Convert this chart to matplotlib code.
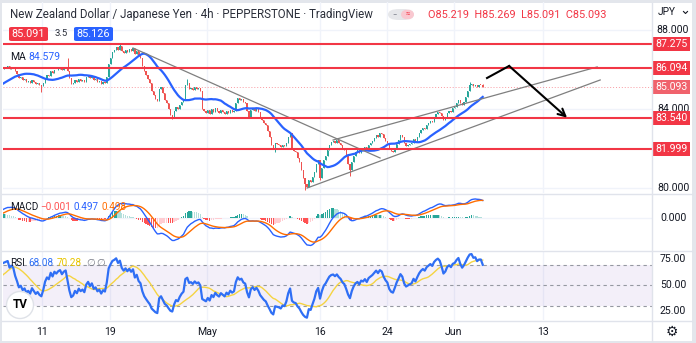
import numpy as np
import pandas as pd
import matplotlib
matplotlib.use("Agg")
import matplotlib.pyplot as plt
from matplotlib.patches import Rectangle, FancyBboxPatch, Ellipse
from matplotlib.transforms import blended_transform_factory

W, H = 696, 343
plt.rcParams['font.family'] = ['Roboto', 'DejaVu Sans']

# 4h closes of the bars left of the visible window (only feed the indicators)
closes_before = [85.05, 84.95, 85.00, 84.90, 85.05, 85.10, 84.95, 85.00, 84.85, 84.95,
                 85.05, 84.90, 85.00, 85.10, 84.95, 85.05, 84.90, 85.00, 85.10, 85.00,
                 84.95, 85.05, 85.00, 85.20, 85.45, 85.35, 85.70, 85.60, 85.90, 85.80,
                 86.05]

# visible 4h closes, bar 0 .. 256
closes = [
    86.10, 86.15, 86.20, 86.05, 86.15, 86.10, 85.90, 85.75, 85.55, 85.60,
    85.45, 85.50, 85.35, 85.40, 85.30, 85.45, 85.35, 85.25, 85.30, 85.20,
    85.15, 85.30, 85.55, 85.70, 85.65, 85.90, 85.80, 86.00, 85.95, 86.05,
    86.10, 86.00, 86.10, 86.15, 85.90, 85.55, 85.25, 85.30, 85.45, 85.35,
    85.50, 85.40, 85.45, 85.35, 85.60, 85.70, 85.55, 85.65, 85.45, 85.50,
    85.35, 85.40, 85.25, 85.35, 85.30, 85.60, 86.30, 86.60, 86.90, 87.00,
    87.15, 87.00, 87.20, 86.95, 86.85, 87.00, 86.90, 87.05, 86.95, 87.10,
    86.80, 86.95, 86.70, 86.60, 86.20, 85.90, 85.70, 85.50, 85.30, 84.90,
    84.70, 84.50, 84.40, 85.00, 85.10, 84.80, 84.45, 84.30, 84.00, 83.70,
    83.60, 83.90, 84.10, 84.00, 84.20, 84.35, 84.45, 85.20, 85.30, 85.00,
    85.05, 84.95, 85.10, 85.00, 85.05, 84.90, 84.00, 83.90, 83.80, 83.95,
    83.75, 84.00, 83.85, 84.05, 83.90, 83.80, 83.95, 83.85, 83.75, 83.90,
    83.80, 83.95, 83.85, 83.90, 84.30, 84.55, 84.45, 84.50, 84.35, 84.30,
    83.90, 83.60, 83.95, 84.05, 83.90, 84.00, 83.85, 83.60, 83.45, 83.30,
    83.20, 82.90, 82.60, 82.20, 82.00, 82.30, 82.25, 82.20, 82.10, 82.20,
    82.15, 82.30, 82.60, 82.80, 82.00, 81.85, 81.80, 81.50, 81.30, 80.90,
    80.50, 80.20, 80.05, 80.40, 80.30, 80.55, 80.80, 81.20, 81.40, 80.50,
    81.00, 81.40, 81.60, 81.90, 82.20, 82.35, 82.40, 82.30, 82.45, 82.30,
    82.20, 82.00, 81.90, 81.60, 81.20, 80.90, 81.30, 81.60, 81.80, 81.90,
    81.75, 82.00, 81.95, 82.10, 81.95, 82.20, 82.30, 82.40, 82.55, 82.70,
    82.60, 82.80, 82.75, 82.55, 82.40, 82.30, 82.00, 81.85, 81.80, 82.00,
    82.25, 82.45, 82.70, 82.60, 82.30, 82.15, 82.20, 82.25, 82.30, 82.50,
    82.40, 82.60, 82.80, 82.95, 83.05, 83.00, 83.20, 83.30, 83.40, 83.35,
    83.60, 83.75, 83.85, 83.80, 83.65, 83.45, 83.55, 83.80, 83.90, 83.85,
    84.05, 84.10, 84.30, 84.45, 84.30, 84.20, 84.35, 84.60, 84.90, 85.20,
    85.25, 85.15, 85.20, 85.10, 85.22, 85.219, 85.093,
]

# wicks that stick out clearly
wick_highs = {34: 86.60, 62: 87.30, 98: 85.50, 249: 85.37, 256: 85.269}
wick_lows = {20: 84.86, 90: 83.50, 145: 81.80, 161: 79.90, 169: 80.40, 185: 80.60, 256: 85.091}

levels = [87.275, 86.094, 83.540, 81.999]
last_close = 85.093

date_labels = ["11", "19", "May", "16", "24", "Jun", "13"]
date_pos = [20.6, 56.6, 108.6, 169.0, 205.0, 240.5, 288.0]

# drawings (bar index, price)
down_line = ([69.0, 201.1], [87.09, 81.52])
chan_upper = ([176.0, 317.2], [82.43, 86.13])
chan_lower = ([162.1, 318.8], [80.00, 85.47])
arrow_path = ([258.3, 270.1, 301.1], [85.57, 86.18, 83.56])

RED = '#f23645'
UP = '#26a69a'
DOWN = '#ef5350'
BLUE = '#2962ff'
ORANGE = '#ff6d00'
YELLOW = '#f5d442'
TXT = '#131722'
GRID = '#f0f3fa'

# ---- series + indicators
s = pd.Series(closes_before + closes, dtype=float)
idx = np.arange(len(s)) - len(closes_before)
c = s.values
o = np.r_[c[0], c[:-1]]
hi = np.maximum(o, c)
lo = np.minimum(o, c)
for k, v in wick_highs.items():
    hi[k + len(closes_before)] = v
for k, v in wick_lows.items():
    lo[k + len(closes_before)] = v

ma = s.rolling(20).mean()
ema12 = s.ewm(span=12, adjust=False).mean()
ema26 = s.ewm(span=26, adjust=False).mean()
macd = ema12 - ema26
signal = macd.ewm(span=9, adjust=False).mean()
hist = macd - signal
delta = s.diff().fillna(0)
up_r = delta.clip(lower=0).ewm(alpha=1 / 14, adjust=False).mean()
dn_r = (-delta.clip(upper=0)).ewm(alpha=1 / 14, adjust=False).mean()
rsi = 100 - 100 / (1 + up_r / dn_r.replace(0, 1e-9))
rsi_ma = rsi.rolling(14).mean()

# ---- figure
fig = plt.figure(figsize=(W / 100, H / 100), dpi=100, facecolor='#e3e6ec')
fig.patches.append(Rectangle((2 / W, 1 - 341 / H), 690 / W, 338 / H,
                             transform=fig.transFigure, fc='white', ec='none', zorder=-10))

AX_L, AX_R = 3, 652


def add_ax(top, bottom):
    a = fig.add_axes([AX_L / W, 1 - bottom / H, (AX_R - AX_L) / W, (bottom - top) / H])
    a.set_facecolor('none')
    for sp in a.spines.values():
        sp.set_visible(False)
    a.set_xticks([])
    a.set_yticks([])
    a.set_xlim(-0.5, 346.5)
    for p in date_pos:
        a.axvline(p, color=GRID, lw=1, zorder=0)
    return a


ax = add_ax(2, 193)
ax_m = add_ax(194, 250)
ax_r = add_ax(251, 320)
ax.set_ylim(79.747, 89.418)
ax_m.set_ylim(-0.889, 0.667)
ax_r.set_ylim(15.9, 83.2)

# separators
for py in (193.5, 250.5, 320.5):
    fig.add_artist(plt.Line2D([2 / W, 692 / W], [1 - py / H] * 2, color='#e0e3eb', lw=1))
fig.add_artist(plt.Line2D([AX_R / W] * 2, [1 - 3 / H, 1 - 341 / H], color='#e0e3eb', lw=1))

for p in (80, 84, 88):
    ax.axhline(p, color=GRID, lw=1, zorder=0)

# candles
up = c >= o
cols = np.where(up, UP, DOWN)
body = np.maximum(np.abs(c - o), 0.025)
ax.vlines(idx, lo, hi, colors=cols, lw=0.7, zorder=2)
ax.bar(idx, body, bottom=np.minimum(o, c), width=0.62, color=cols, lw=0, zorder=3)
ax.plot(idx, ma, color=BLUE, lw=1.6, zorder=4)

# levels
for lv in levels:
    ax.axhline(lv, color=RED, lw=1.5, zorder=5)
ax.axhline(last_close, color=RED, lw=0.7, ls=(0, (1, 2)), alpha=0.5, zorder=1)

# drawings
for xs, ys in (down_line, chan_upper, chan_lower):
    ax.plot(xs, ys, color='#7f7f7f', lw=0.9, zorder=4)
ax.plot(arrow_path[0][:2], arrow_path[1][:2], color='black', lw=1.5, zorder=6)
ax.annotate('', xy=(arrow_path[0][2], arrow_path[1][2]),
            xytext=(arrow_path[0][1], arrow_path[1][1]),
            arrowprops=dict(arrowstyle='->', color='black', lw=1.5, mutation_scale=13,
                            shrinkA=0, shrinkB=0), zorder=6)

# price scale
def axfrac(px):
    return (px - AX_L) / (AX_R - AX_L)


tr = blended_transform_factory(ax.transAxes, ax.transData)
for p in (88, 84, 80):
    ax.text(axfrac(673), p, f"{p:.3f}", transform=tr, ha='center', va='center',
            fontsize=7.6, color=TXT, clip_on=False)
half = 7 / 19.75
for lv, col in [(l, RED) for l in levels] + [(last_close, '#f0626c')]:
    ax.add_patch(Rectangle((axfrac(652), lv - half), axfrac(690) - axfrac(652), 2 * half,
                           transform=tr, fc=col, ec='none', clip_on=False, zorder=7))
    ax.text(axfrac(671), lv, f"{lv:.3f}", transform=tr, ha='center', va='center',
            fontsize=7.6, color='white', clip_on=False, zorder=8)

# MACD
hcol = []
hv = hist.values
for k in range(len(hv)):
    prev = hv[k - 1] if k > 0 else hv[k]
    if hv[k] >= 0:
        hcol.append('#26a69a' if prev < hv[k] else '#b2dfdb')
    else:
        hcol.append('#ffcdd2' if prev < hv[k] else '#ff5252')
ax_m.bar(idx, hv, width=0.7, color=hcol, lw=0, zorder=2)
ax_m.plot(idx, macd, color=BLUE, lw=1.0, zorder=3)
ax_m.plot(idx, signal, color=ORANGE, lw=1.0, zorder=3)
ax_m.axhline(0, color=GRID, lw=1, zorder=0)
trm = blended_transform_factory(ax_m.transAxes, ax_m.transData)
ax_m.text(axfrac(673), 0, "0.000", transform=trm, ha='center', va='center',
          fontsize=7.6, color=TXT, clip_on=False)

# RSI
ax_r.axhspan(30, 70, color='#7e57c2', alpha=0.09, lw=0, zorder=0)
for lv in (70, 50, 30):
    ax_r.axhline(lv, color='#9598a1', lw=0.8, ls=(0, (3, 3)), zorder=1)
ax_r.plot(idx, rsi_ma, color=YELLOW, lw=1.0, zorder=2)
ax_r.plot(idx, rsi, color='#2f6ff5', lw=1.6, zorder=3)
trr = blended_transform_factory(ax_r.transAxes, ax_r.transData)
for lv in (75, 50, 25):
    ax_r.text(axfrac(673), lv, f"{lv:.2f}", transform=trr, ha='center', va='center',
              fontsize=7.6, color=TXT, clip_on=False)

# time axis
for lab, p in zip(date_labels, date_pos):
    ax_r.text(p, -0.175, lab, transform=blended_transform_factory(ax_r.transData, ax_r.transAxes),
              ha='center', va='center', fontsize=7.6, color=TXT, clip_on=False)


def ftext(px, py, s, **kw):
    kw.setdefault('fontsize', 7.5)
    kw.setdefault('color', TXT)
    kw.setdefault('va', 'center')
    return fig.text(px / W, 1 - py / H, s, **kw)


# header
ftext(10, 14.5, "New Zealand Dollar / Japanese Yen · 4h · PEPPERSTONE · TradingView",
      fontsize=8.3, color='#2a2e39')
fig.patches.append(FancyBboxPatch((388 / W, 1 - 20 / H), 26 / W, 11 / H,
                                  boxstyle='round,pad=0,rounding_size=0.016',
                                  transform=fig.transFigure, fc='#e6e7ea', ec='none'))
fig.patches.append(FancyBboxPatch((401 / W, 1 - 20 / H), 13 / W, 11 / H,
                                  boxstyle='round,pad=0,rounding_size=0.016',
                                  transform=fig.transFigure, fc='#f9c8d0', ec='none'))
ftext(394.5, 14.2, "−", fontsize=5.5, color='#787b86', ha='center')
ftext(407.5, 14.2, "≈", fontsize=5.5, color=RED, ha='center')
ftext(428, 15, "O85.219  H85.269  L85.091  C85.093", fontsize=7.8, color=RED)
ftext(658, 12, "JPY", fontsize=7.3)
fig.add_artist(plt.Line2D([683.5 / W, 685.5 / W, 687.5 / W],
                          [1 - 11.5 / H, 1 - 13.5 / H, 1 - 11.5 / H], color=TXT, lw=0.8))

for x0, x1, col, val in ((9, 48, RED, "85.091"), (74, 113, BLUE, "85.126")):
    fig.patches.append(FancyBboxPatch((x0 / W, 1 - 41 / H), (x1 - x0) / W, 14 / H,
                                      boxstyle='round,pad=0,rounding_size=0.004',
                                      transform=fig.transFigure, fc=col, ec='none'))
    ftext((x0 + x1) / 2, 34, val, color='white', ha='center', fontsize=7.8)
ftext(61, 34, "3.5", ha='center', fontsize=6.8, color='#2a2e39')

ftext(10, 56.5, "MA")
ftext(28, 56.5, "84.579", color=BLUE)

ftext(10, 207, "MACD", fontsize=7.2)
ftext(40, 207, "\u22120.001", fontsize=7.2, color='#ff5252')
ftext(73, 207, "0.497", fontsize=7.2, color=BLUE)
ftext(102, 207, "0.498", fontsize=7.2, color=ORANGE)

ftext(10, 263, "RSI", fontsize=7.2)
ftext(28, 263, "68.08", fontsize=7.2, color='#2f6ff5')
ftext(57, 263, "70.28", fontsize=7.2, color='#e8c500')
ftext(86, 263, "\u2205", fontsize=7.2, color='#787b86')
ftext(96, 263, "\u2205", fontsize=7.2, color='#787b86')

# logo + gear
fig.patches.append(Ellipse((20 / W, 1 - 305 / H), 27 / W, 27 / H, transform=fig.transFigure,
                           fc='white', ec='#dfe2e8', lw=1.0, zorder=5))
ftext(20, 305, "TV", fontsize=8.5, fontweight='bold', color='black', ha='center', zorder=6)
ftext(672, 332, "\u2699", fontsize=10, ha='center', family='DejaVu Sans')

fig.savefig("out.png", dpi=100, facecolor=fig.get_facecolor())
